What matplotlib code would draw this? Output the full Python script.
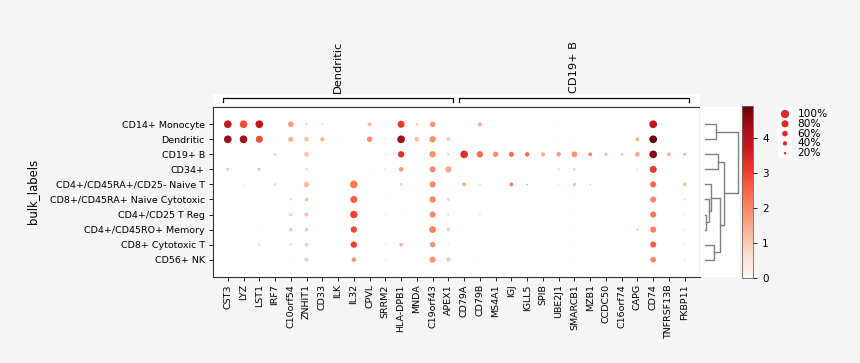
import numpy as np
import matplotlib
matplotlib.use("Agg")
import matplotlib.pyplot as plt

# ---- categories ----
genes = ["CST3", "LYZ", "LST1", "IRF7", "C10orf54", "ZNHIT1", "CD33", "ILK",
         "IL32", "CPVL", "SRRM2", "HLA-DPB1", "MNDA", "C19orf43", "APEX1",
         "CD79A", "CD79B", "MS4A1", "IGJ", "IGLL5", "SPIB", "UBE2J1", "SMARCB1",
         "MZB1", "CCDC50", "C16orf74", "CAPG", "CD74", "TNFRSF13B", "FKBP11"]
cell_types = ["CD14+ Monocyte", "Dendritic", "CD19+ B", "CD34+",
              "CD4+/CD45RA+/CD25- Naive T", "CD8+/CD45RA+ Naive Cytotoxic",
              "CD4+/CD25 T Reg", "CD4+/CD45RO+ Memory", "CD8+ Cytotoxic T", "CD56+ NK"]
gene_groups = ["Dendritic", "CD19+ B"]
group_ranges = [(0, 14), (15, 29)]

# ---- fraction of cells expressing (%) ----
pct = np.array([
    [90, 90, 90, 6, 61, 21, 11, 6, 6, 36, 8, 80, 21, 57, 6, 0, 40, 0, 0, 0, 0, 8, 6, 0, 0, 0, 6, 90, 0, 0],
    [90, 90, 80, 8, 52, 44, 40, 8, 6, 57, 14, 90, 48, 70, 36, 0, 8, 0, 0, 0, 3, 8, 8, 0, 3, 3, 36, 90, 0, 0],
    [0, 0, 3, 21, 6, 48, 0, 6, 6, 0, 11, 70, 0, 70, 21, 90, 70, 57, 52, 44, 40, 44, 61, 36, 28, 21, 48, 90, 36, 24],
    [28, 6, 28, 3, 3, 21, 0, 0, 0, 8, 17, 48, 0, 66, 70, 3, 6, 3, 0, 0, 0, 17, 24, 6, 0, 0, 14, 80, 0, 3],
    [3, 11, 0, 21, 3, 61, 0, 3, 90, 0, 6, 21, 0, 66, 8, 36, 21, 0, 36, 11, 0, 11, 28, 11, 3, 3, 3, 66, 0, 32],
    [0, 0, 6, 0, 17, 36, 0, 6, 80, 0, 8, 6, 0, 70, 28, 3, 6, 0, 0, 0, 0, 6, 8, 0, 0, 0, 0, 66, 0, 17],
    [0, 0, 6, 6, 28, 40, 0, 3, 85, 0, 11, 8, 0, 66, 21, 0, 14, 0, 0, 0, 0, 3, 8, 0, 0, 0, 0, 66, 0, 11],
    [0, 0, 8, 0, 32, 36, 0, 8, 70, 0, 6, 6, 0, 75, 32, 0, 6, 0, 0, 0, 0, 3, 8, 0, 0, 0, 21, 66, 0, 14],
    [3, 3, 17, 3, 21, 36, 0, 3, 70, 0, 11, 32, 0, 57, 11, 3, 8, 3, 0, 0, 0, 6, 8, 0, 0, 0, 6, 66, 0, 11],
    [6, 0, 0, 0, 8, 40, 0, 3, 44, 0, 11, 6, 0, 66, 40, 0, 11, 0, 0, 0, 0, 3, 8, 0, 0, 0, 0, 61, 0, 14],
])

# ---- mean expression in group ----
mean = np.array([
    [3.8, 2.8, 3.8, 0.3, 1.7, 1.0, 0.8, 0.5, 0.4, 1.3, 0.5, 3.1, 1.0, 1.8, 0.5, 0, 1.4, 0, 0, 0, 0, 0.5, 0.5, 0, 0, 0, 0.5, 3.9, 0, 0],
    [4.4, 4.3, 2.8, 0.6, 1.4, 1.2, 1.4, 0.6, 0.4, 1.9, 0.7, 4.3, 1.2, 1.9, 1.0, 0, 0.5, 0, 0, 0, 0.3, 0.5, 0.5, 0, 0.3, 0.3, 1.4, 4.85, 0, 0],
    [0, 0, 0.2, 0.9, 0.3, 1.1, 0, 0.4, 0.4, 0, 0.6, 3.3, 0, 1.9, 0.8, 3.3, 2.4, 1.9, 2.4, 2.4, 1.4, 1.7, 1.8, 2.0, 1.3, 1.2, 1.5, 4.6, 1.3, 1.4],
    [1.0, 0.3, 1.1, 0.2, 0.2, 0.8, 0, 0, 0, 0.6, 0.6, 1.7, 0, 2.0, 1.5, 0.2, 0.3, 0.2, 0, 0, 0, 0.7, 0.9, 0.4, 0, 0, 0.7, 3.1, 0, 0.3],
    [0.2, 0.5, 0, 0.8, 0.2, 1.2, 0, 0.3, 2.2, 0, 0.4, 1.0, 0, 2.0, 0.5, 1.4, 0.7, 0, 2.2, 1.6, 0, 0.5, 1.1, 1.0, 0.3, 0.3, 0.3, 2.5, 0, 1.2],
    [0, 0, 0.3, 0, 0.8, 1.1, 0, 0.3, 2.6, 0, 0.4, 0.3, 0, 2.0, 0.8, 0.2, 0.3, 0, 0, 0, 0, 0.3, 0.4, 0, 0, 0, 0, 2.0, 0, 0.8],
    [0, 0, 0.3, 0.3, 1.0, 1.1, 0, 0.2, 3.0, 0, 0.5, 0.4, 0, 2.0, 0.6, 0, 0.7, 0, 0, 0, 0, 0.2, 0.4, 0, 0, 0, 0, 2.3, 0, 0.5],
    [0, 0, 0.4, 0, 1.0, 1.0, 0, 0.4, 2.9, 0, 0.3, 0.3, 0, 2.1, 0.9, 0, 0.3, 0, 0, 0, 0, 0.2, 0.4, 0, 0, 0, 1.0, 2.1, 0, 0.6],
    [0.2, 0.2, 0.8, 0.2, 0.8, 1.0, 0, 0.2, 3.0, 0, 0.5, 1.5, 0, 1.8, 0.5, 0.2, 0.4, 0.2, 0, 0, 0, 0.3, 0.4, 0, 0, 0, 0.3, 2.6, 0, 0.5],
    [0.3, 0, 0, 0, 0.6, 1.0, 0, 0.2, 1.9, 0, 0.5, 0.3, 0, 1.8, 1.1, 0, 0.5, 0, 0, 0, 0, 0.2, 0.4, 0, 0, 0, 0, 2.0, 0, 0.6],
])

# ---- dendrogram links (left, right, height); leaves are row indices ----
links = [(6, 7, 1.6), (5, 10, 4.3), (4, 11, 6.0), (8, 9, 9.3), (0, 1, 11.3),
         (2, 3, 13.6), (12, 13, 15.0), (15, 16, 19.3), (14, 17, 33.6)]

legend_pct = [100, 80, 60, 40, 20]

W, H = 860, 363
BG = "#f5f5f5"
SMAX = 36
VMAX = 4.9

fig = plt.figure(figsize=(W / 100, H / 100), dpi=100, facecolor=BG)


def px_axes(x0, y0, x1, y1):
    return fig.add_axes([x0 / W, 1 - y1 / H, (x1 - x0) / W, (y1 - y0) / H])


XLIM = (-0.97, 29.97)
YLIM = (10.12, -1.18)

# ---- main dot plot ----
ax = px_axes(212.5, 106.5, 700, 276.5)
ax.set_facecolor("white")
xx, yy = np.meshgrid(np.arange(len(genes)), np.arange(len(cell_types)))
sc = ax.scatter(xx.ravel(), yy.ravel(), s=(pct.ravel() / 100) ** 1.5 * SMAX,
                c=mean.ravel(), cmap="Reds", vmin=0, vmax=VMAX, linewidths=0)
ax.set_xlim(*XLIM)
ax.set_ylim(*YLIM)
ax.set_xticks(np.arange(len(genes)))
ax.set_xticklabels(genes, rotation=90, fontsize=6.8)
ax.set_yticks(np.arange(len(cell_types)))
ax.set_yticklabels(cell_types, fontsize=6.8)
ax.tick_params(length=3, width=0.6, pad=2.5)
for s in ax.spines.values():
    s.set_linewidth(0.8)
    s.set_color("#333333")

fig.text(33 / W, 1 - 191.5 / H, "bulk_labels", rotation=90, ha="center",
         va="center", fontsize=8.4)

# ---- gene group brackets ----
bax = px_axes(212.5, 94, 700, 105)
bax.set_xlim(*XLIM)
bax.set_ylim(0, 1)
bax.axis("off")
bax.add_patch(plt.Rectangle((0, 0), 1, 1, transform=bax.transAxes,
                            facecolor="white", edgecolor="none", zorder=0))
for label, (i0, i1) in zip(gene_groups, group_ranges):
    a, b = i0 - 0.3, i1 + 0.3
    bax.plot([a, a, b, b], [0.3, 0.66, 0.66, 0.3], color="black", lw=0.9)
    bax.text((a + b) / 2, 1.05, label, rotation=90, ha="center", va="bottom",
             fontsize=8.2, clip_on=False)

# ---- dendrogram ----
dax = px_axes(700, 106.5, 740, 276.5)
dax.set_facecolor("white")
dax.set_ylim(*YLIM)
dax.set_xlim(-4.7, 35.3)
node_y = {i: float(i) for i in range(len(cell_types))}
node_h = {i: 0.0 for i in range(len(cell_types))}
for k, (l, r, h) in enumerate(links):
    nid = len(cell_types) + k
    dax.plot([node_h[l], h, h, node_h[r]],
             [node_y[l], node_y[l], node_y[r], node_y[r]],
             color="#808080", lw=1.0)
    node_y[nid] = (node_y[l] + node_y[r]) / 2
    node_h[nid] = h
dax.set_xticks([])
dax.set_yticks([])
for s in dax.spines.values():
    s.set_visible(False)

# ---- colorbar ----
cax = px_axes(742, 106, 753, 278)
cb = fig.colorbar(sc, cax=cax)
cb.set_ticks([0, 1, 2, 3, 4])
cb.ax.tick_params(labelsize=7.5, length=3, width=0.6)
cb.outline.set_linewidth(0.6)
cb.outline.set_edgecolor("#666666")

# ---- size legend ----
lax = px_axes(778, 108, 792, 158)
lax.set_facecolor("white")
ly = np.arange(len(legend_pct))
lax.scatter(np.zeros(len(legend_pct)), ly,
            s=(np.array(legend_pct) / 100) ** 1.5 * SMAX, color="#e0282a",
            linewidths=0)
lax.set_xlim(-1, 1)
lax.set_ylim(4.49, -0.61)
for yv, p in zip(ly, legend_pct):
    lax.text(1.81, yv, f"{p}%", va="center", ha="left", fontsize=7.6,
             clip_on=False)
lax.set_xticks([])
lax.set_yticks([])
for s in lax.spines.values():
    s.set_visible(False)

fig.savefig("out.png", dpi=100, facecolor=BG)
